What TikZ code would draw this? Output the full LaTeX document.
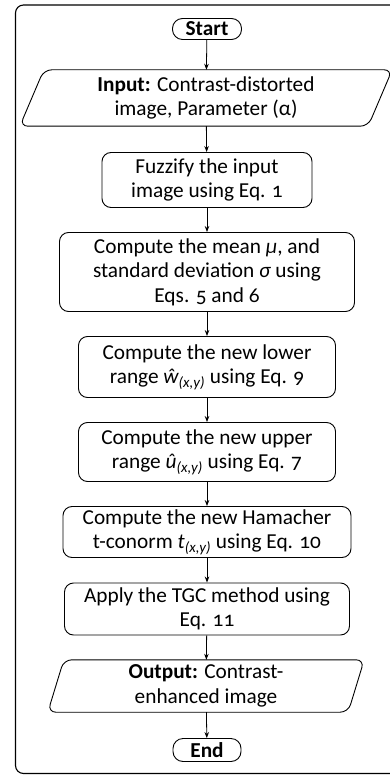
\documentclass[tikz,border=0pt]{standalone}
\usepackage{fontspec}
\setmainfont{Carlito}[Numbers=OldStyle]
\usetikzlibrary{arrows.meta,calc}
\newcommand{\xysub}{\textsubscript{\itshape (x,y)}}
\begin{document}
\begin{tikzpicture}[x=1pt,y=-1pt,
  every node/.style={font=\fontsize{21.3}{24.5}\selectfont, align=center, inner sep=0pt},
  proc/.style={draw, line width=0.9pt, rounded corners=9pt},
  term/.style={draw, line width=0.9pt, rounded corners=10pt, font=\fontsize{21.3}{24.5}\selectfont\bfseries},
  io/.style={},
  arr/.style={line width=0.8pt, -{Stealth[length=6pt,width=4.5pt]}}]
\useasboundingbox (0,0) rectangle (390,775);
\draw[line width=1.1pt, rounded corners=8pt] (15.5,5) rectangle (420,773.5);

\node[term, minimum width=69pt, minimum height=21pt] (start) at (207,29) {Start};
\node[io, minimum width=348pt, minimum height=56pt] (inp) at (206,98) {\textbf{Input:} Contrast-distorted\\image, Parameter (α)};
\node[proc, minimum width=210pt, minimum height=55pt] (fuz) at (207,180) {Fuzzify the input\\image using Eq. 1};
\node[proc, minimum width=295pt, minimum height=79pt] (mean) at (207,272) {Compute the mean {\itshape μ}, and\\standard deviation {\itshape σ} using\\Eqs. 5 and 6};
\node[proc, minimum width=257pt, minimum height=61pt] (low) at (207,367) {Compute the new lower\\range {\itshape ŵ}\xysub{} using Eq. 9};
\node[proc, minimum width=257pt, minimum height=59pt] (up) at (207,452) {Compute the new upper\\range {\itshape û}\xysub{} using Eq. 7};
\node[proc, minimum width=288pt, minimum height=51pt] (ham) at (207,532) {Compute the new Hamacher\\t-conorm {\itshape t}\xysub{} using Eq. 10};
\node[proc, minimum width=285pt, minimum height=52pt] (tgc) at (207,609) {Apply the TGC method using\\Eq. 11};
\node[io, minimum width=300pt, minimum height=52pt] (out) at (206,686) {\textbf{Output:} Contrast-\\enhanced image};
\node[term, minimum width=68pt, minimum height=23pt] (end) at (207,750) {End};

\draw[line width=0.9pt, rounded corners=8pt] (inp.north) -- ($(inp.north east)+(12,0)$) -- ($(inp.south east)+(-12,0)$) -- ($(inp.south west)+(-12,0)$) -- ($(inp.north west)+(12,0)$) -- cycle;
\draw[line width=0.9pt, rounded corners=8pt] (out.north) -- ($(out.north east)+(8,0)$) -- ($(out.south east)+(-8,0)$) -- ($(out.south west)+(-8,0)$) -- ($(out.north west)+(8,0)$) -- cycle;

\draw[arr] (start) -- (inp);
\draw[arr] (inp) -- (fuz);
\draw[arr] (fuz) -- (mean);
\draw[arr] (mean) -- (low);
\draw[arr] (low) -- (up);
\draw[arr] (up) -- (ham);
\draw[arr] (ham) -- (tgc);
\draw[arr] (tgc) -- (out);
\draw[arr] (out) -- (end);
\end{tikzpicture}
\end{document}
